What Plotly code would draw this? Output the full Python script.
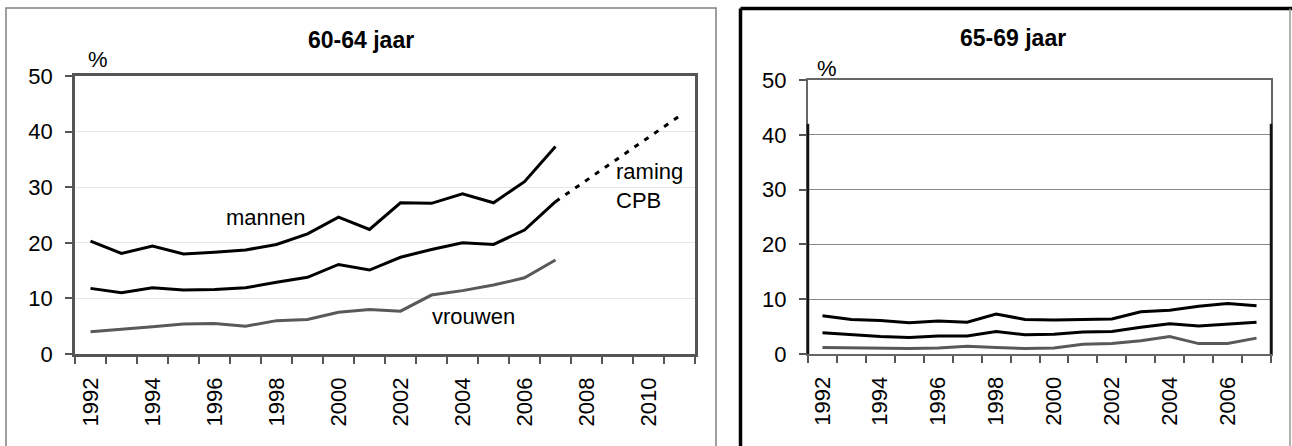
import plotly.graph_objects as go

# 60-64 jaar (percentages)
years_6064 = list(range(1992, 2008))
mannen_6064 = [20.3, 18.1, 19.4, 18.0, 18.3, 18.7, 19.7, 21.6, 24.6, 22.4, 27.2, 27.1, 28.8, 27.2, 31.0, 37.3]
totaal_6064 = [11.8, 11.0, 11.9, 11.5, 11.6, 11.9, 12.9, 13.8, 16.1, 15.1, 17.4, 18.8, 20.0, 19.7, 22.3, 27.4]
vrouwen_6064 = [4.0, 4.4, 4.9, 5.4, 5.5, 5.0, 6.0, 6.2, 7.5, 8.0, 7.7, 10.6, 11.4, 12.4, 13.7, 16.9]
raming_years = [2007, 2011]
raming_totaal = [27.4, 42.8]

# 65-69 jaar (percentages)
years_6569 = list(range(1992, 2008))
mannen_6569 = [7.0, 6.3, 6.1, 5.7, 6.0, 5.8, 7.3, 6.3, 6.2, 6.3, 6.4, 7.7, 8.0, 8.7, 9.2, 8.8]
totaal_6569 = [3.9, 3.5, 3.2, 3.0, 3.3, 3.3, 4.1, 3.5, 3.6, 4.0, 4.1, 4.9, 5.5, 5.1, 5.4, 5.8]
vrouwen_6569 = [1.2, 1.1, 1.0, 1.0, 1.1, 1.4, 1.2, 1.0, 1.1, 1.8, 1.9, 2.4, 3.2, 1.9, 1.9, 2.9]

left_years = list(range(1992, 2012))
left_ticks = list(range(1992, 2011, 2))
right_years = years_6569
right_ticks = list(range(1992, 2007, 2))

W, H = 1292, 446
FONT = "Liberation Sans, Arial, sans-serif"


def px_x(v):
    return v / W


def px_y(v):
    return 1 - v / H


fig = go.Figure()

for ys, color, xa, ya, xs in [
    (mannen_6064, "#000000", "x", "y", years_6064),
    (totaal_6064, "#000000", "x", "y", years_6064),
    (vrouwen_6064, "#595959", "x", "y", years_6064),
    (mannen_6569, "#000000", "x2", "y2", years_6569),
    (totaal_6569, "#000000", "x2", "y2", years_6569),
    (vrouwen_6569, "#595959", "x2", "y2", years_6569),
]:
    fig.add_trace(
        go.Scatter(
            x=xs, y=ys, mode="lines", xaxis=xa, yaxis=ya,
            line=dict(color=color, width=3), hoverinfo="skip",
        )
    )

fig.add_trace(
    go.Scatter(
        x=raming_years, y=raming_totaal, mode="lines", xaxis="x", yaxis="y",
        line=dict(color="#000000", width=3, dash="5px,7px"), hoverinfo="skip",
    )
)


def x_axis(domain, years, ticks, anchor):
    bounds = [y - 0.5 for y in years] + [years[-1] + 0.5]
    return dict(
        domain=domain, anchor=anchor, range=[years[0] - 0.5, years[-1] + 0.5],
        tickmode="array", tickvals=ticks, ticktext=[str(t) for t in ticks],
        tickangle=-90, ticks="", ticklabelstandoff=12, automargin=False,
        tickfont=dict(family=FONT, size=22, color="#000"),
        showgrid=False, zeroline=False, showline=True, mirror=True,
        minor=dict(tickmode="array", tickvals=bounds, ticks="outside",
                   ticklen=7, tickwidth=1.5, tickcolor="#555", showgrid=False),
    )


def y_axis(domain, anchor, gridcolor, linecolor, linewidth):
    return dict(
        domain=domain, anchor=anchor, range=[0, 50], dtick=10,
        ticks="outside", ticklen=7, tickwidth=1.5, tickcolor="#555",
        ticklabelstandoff=8, automargin=False,
        tickfont=dict(family=FONT, size=22, color="#000"),
        showgrid=True, gridcolor=gridcolor, gridwidth=1, zeroline=False,
        showline=True, mirror=True, linecolor=linecolor, linewidth=linewidth,
    )


xa1 = x_axis([px_x(75), px_x(695)], left_years, left_ticks, "y")
xa1.update(linecolor="#555", linewidth=2.5)
xa2 = x_axis([px_x(808), px_x(1271)], right_years, right_ticks, "y2")
xa2.update(linecolor="#666", linewidth=2)

fig.update_layout(
    width=W, height=H,
    margin=dict(l=0, r=0, t=0, b=0, autoexpand=False),
    paper_bgcolor="white", plot_bgcolor="white",
    showlegend=False,
    font=dict(family=FONT, color="#000"),
    xaxis=xa1,
    yaxis=y_axis([px_y(354), px_y(76)], "x", "#e6e6e6", "#555", 2.5),
    xaxis2=xa2,
    yaxis2=y_axis([px_y(354), px_y(80)], "x2", "#888888", "#666", 2),
)

# panel frames
fig.add_shape(type="rect", xref="paper", yref="paper",
              x0=px_x(6), x1=px_x(716), y0=px_y(8), y1=px_y(460),
              line=dict(color="#808080", width=1.5))
fig.add_shape(type="line", xref="paper", yref="paper",
              x0=px_x(740.5), x1=px_x(1300), y0=px_y(8.5), y1=px_y(8.5),
              line=dict(color="#000", width=3.5))
fig.add_shape(type="line", xref="paper", yref="paper",
              x0=px_x(740.5), x1=px_x(740.5), y0=px_y(8.5), y1=px_y(460),
              line=dict(color="#000", width=3.5))
fig.add_shape(type="line", xref="paper", yref="paper",
              x0=px_x(1290), x1=px_x(1290), y0=px_y(8.5), y1=px_y(460),
              line=dict(color="#999", width=1.5))

# darker segments of the right plot frame (0-42)
for xv in [0, 1]:
    fig.add_shape(type="line", xref="x2 domain", yref="y2",
                  x0=xv, x1=xv, y0=0, y1=42,
                  line=dict(color="#111", width=2.5))

ann = [
    dict(text="<b>60-64 jaar</b>", x=px_x(361), y=px_y(40), size=23),
    dict(text="<b>65-69 jaar</b>", x=px_x(1013), y=px_y(38), size=23),
    dict(text="%", x=px_x(98), y=px_y(60), size=22),
    dict(text="%", x=px_x(827), y=px_y(68), size=22),
]
for a in ann:
    fig.add_annotation(text=a["text"], x=a["x"], y=a["y"], xref="paper", yref="paper",
                       showarrow=False, xanchor="center", yanchor="middle",
                       font=dict(family=FONT, size=a["size"], color="#000"))

fig.add_annotation(text="mannen", x=1997.66, y=24.6, xref="x", yref="y",
                   showarrow=False, font=dict(family=FONT, size=22, color="#000"))
fig.add_annotation(text="vrouwen", x=2004.37, y=6.8, xref="x", yref="y",
                   showarrow=False, font=dict(family=FONT, size=22, color="#000"))
fig.add_annotation(text="raming<br>CPB", x=2008.9, y=30.2, xref="x", yref="y",
                   showarrow=False, xanchor="left", align="left",
                   font=dict(family=FONT, size=22, color="#000"))

fig.write_html(
    "out.html",
    config={"displayModeBar": False},
    post_script="document.body.style.margin = '0';",
)
